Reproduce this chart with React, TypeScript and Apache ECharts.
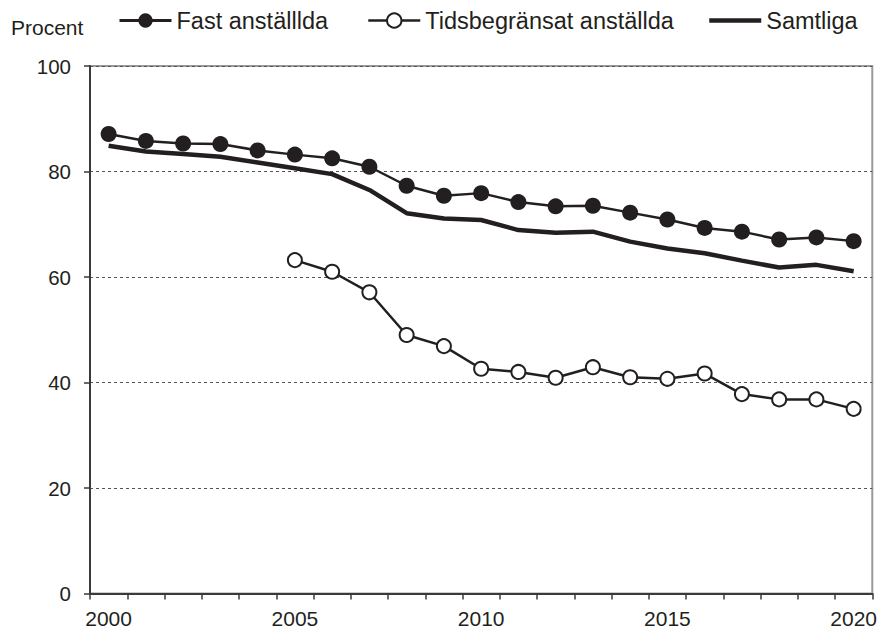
import React, { useEffect, useRef } from "react";
import * as echarts from "echarts";

const years = ["2000","2001","2002","2003","2004","2005","2006","2007","2008","2009","2010","2011","2012","2013","2014","2015","2016","2017","2018","2019","2020"];
const fast = [87.1, 85.8, 85.3, 85.2, 84.0, 83.2, 82.5, 80.9, 77.3, 75.4, 75.9, 74.2, 73.4, 73.5, 72.2, 70.9, 69.3, 68.6, 67.1, 67.5, 66.8];
const tids = [null, null, null, null, null, 63.2, 61.0, 57.1, 49.0, 46.9, 42.6, 42.0, 40.9, 42.9, 41.0, 40.7, 41.7, 37.8, 36.8, 36.8, 35.0];
const samtliga = [84.9, 83.8, 83.3, 82.8, 81.7, 80.6, 79.5, 76.5, 72.1, 71.1, 70.8, 68.9, 68.4, 68.6, 66.7, 65.4, 64.5, 63.1, 61.8, 62.3, 61.1];
const seriesNames = ["Fast anställlda", "Tidsbegränsat anställda", "Samtliga"];
const yTicks = [0, 20, 40, 60, 80, 100];

const FONT = "'Liberation Sans', Arial, sans-serif";
const INK = "#231f20";

export default function App() {
  const ref = useRef<HTMLDivElement>(null);
  useEffect(() => {
    if (!ref.current) return;
    const chart = echarts.init(ref.current, null, { renderer: "svg" });
    const legendBase = {
      top: 8.5,
      padding: 0,
      itemWidth: 52,
      itemHeight: 18,
      itemGap: 0,
      textStyle: { fontFamily: FONT, fontSize: 23.5, color: INK },
      selectedMode: false,
    };
    chart.setOption({
      animation: false,
      backgroundColor: "#ffffff",
      textStyle: { fontFamily: FONT },
      title: {
        text: "Procent",
        left: 6,
        top: 12,
        textStyle: { fontFamily: FONT, fontSize: 21, fontWeight: "normal", color: INK },
      },
      legend: [
        {
          ...legendBase,
          left: 118,
          data: [{ name: seriesNames[0], lineStyle: { width: 3, color: INK } }],
        },
        {
          ...legendBase,
          left: 367,
          data: [{ name: seriesNames[1], lineStyle: { width: 2.5, color: INK } }],
        },
        {
          ...legendBase,
          left: 707,
          data: [{ name: seriesNames[2], itemStyle: { opacity: 0 }, lineStyle: { width: 4.5, color: INK } }],
        },
      ],
      grid: {
        left: 90,
        right: 7,
        top: 66,
        bottom: 35.5,
        show: true,
        borderColor: "#9a9a9a",
        borderWidth: 2,
        backgroundColor: "transparent",
      },
      xAxis: {
        type: "category",
        data: years,
        boundaryGap: true,
        axisLine: { show: true, lineStyle: { color: "#3a3a3a", width: 2 } },
        axisTick: { show: true, interval: 0, length: 6, lineStyle: { color: "#3a3a3a", width: 1.5 } },
        axisLabel: {
          interval: 4,
          margin: 14,
          fontFamily: FONT,
          fontSize: 21,
          color: INK,
        },
        splitLine: { show: false },
      },
      yAxis: {
        type: "value",
        min: yTicks[0],
        max: yTicks[yTicks.length - 1],
        interval: 20,
        axisLine: { show: true, lineStyle: { color: "#3a3a3a", width: 2 } },
        axisTick: { show: true, length: 6, lineStyle: { color: "#3a3a3a", width: 1.5 } },
        axisLabel: { margin: 19, fontFamily: FONT, fontSize: 20.5, color: INK },
        splitLine: { show: true, lineStyle: { color: "#555555", width: 1, type: [3, 3] } },
      },
      series: [
        {
          name: seriesNames[0],
          type: "line",
          data: fast,
          symbol: "circle",
          symbolSize: 16,
          lineStyle: { color: INK, width: 2.5 },
          itemStyle: { color: INK, borderColor: INK, borderWidth: 0 },
          z: 3,
        },
        {
          name: seriesNames[1],
          type: "line",
          data: tids,
          symbol: "circle",
          symbolSize: 14,
          showSymbol: true,
          connectNulls: false,
          lineStyle: { color: INK, width: 2.5 },
          itemStyle: { color: "#ffffff", borderColor: INK, borderWidth: 2 },
          z: 3,
        },
        {
          name: seriesNames[2],
          type: "line",
          data: samtliga,
          symbol: "none",
          lineStyle: { color: INK, width: 4.5 },
          itemStyle: { color: INK },
          z: 2,
        },
      ],
    });
    return () => chart.dispose();
  }, []);
  return <div ref={ref} style={{ width: 880, height: 629, position: "absolute", left: 0, top: 0 }} />;
}
